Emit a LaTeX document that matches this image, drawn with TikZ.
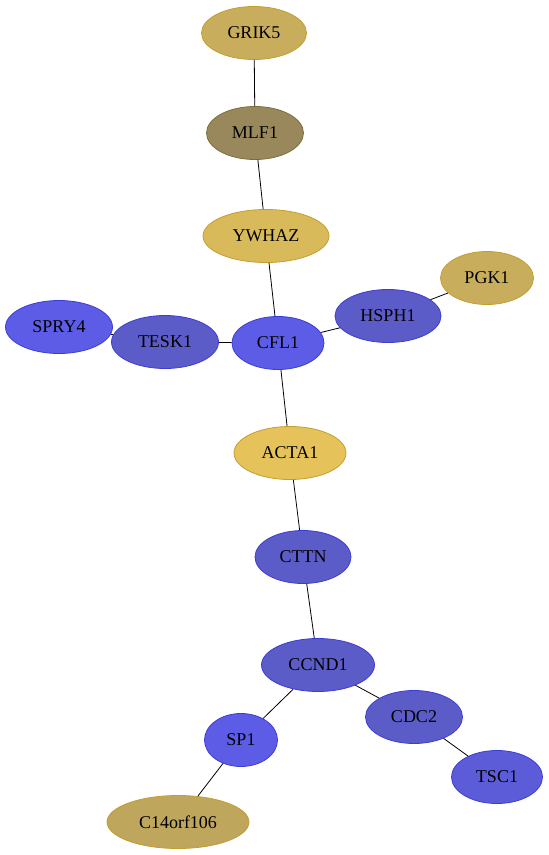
\documentclass[tikz,border=0pt]{standalone}
\usepackage{fontspec}
\setmainfont{Liberation Serif}
\usetikzlibrary{shapes.geometric}
\definecolor{goldA}{RGB}{200,174,92}
\definecolor{goldB}{RGB}{216,186,90}
\definecolor{goldC}{RGB}{230,194,90}
\definecolor{goldD}{RGB}{190,166,92}
\definecolor{oliveM}{RGB}{152,136,92}
\definecolor{blueHi}{RGB}{92,92,230}
\definecolor{blueMd}{RGB}{92,92,200}
\definecolor{blueTs}{RGB}{92,92,216}
\definecolor{goldEdge}{RGB}{196,158,48}
\definecolor{oliveEdge}{RGB}{125,110,60}
\definecolor{blueEdge}{RGB}{60,60,215}
\tikzset{
    gene/.style={ellipse, inner sep=0pt, minimum height=53pt, font=\fontsize{18}{18}\selectfont, line width=0.8pt},
    goldgene/.style={gene, draw=goldEdge},
    bluegene/.style={gene, draw=blueEdge},
    link/.style={black, line width=0.8pt}
}
\begin{document}
\begin{tikzpicture}[x=1pt, y=-1pt]

    % Canvas
    \useasboundingbox (0,0) rectangle (549,855);

    % 1. Upper chain
    \node[goldgene, fill=goldA, minimum width=105pt] (grik) at (254,33) {GRIK5};
    \node[gene, draw=oliveEdge, fill=oliveM, minimum width=97pt] (mlf) at (255,133) {MLF1};
    \node[goldgene, fill=goldB, minimum width=126pt] (ywhaz) at (266,236) {YWHAZ};

    % 2. Middle row
    \node[goldgene, fill=goldA, minimum width=93pt] (pgk) at (487,278) {PGK1};
    \node[bluegene, fill=blueMd, minimum width=106pt] (hsph) at (388,316) {HSPH1};
    \node[bluegene, fill=blueHi, minimum width=107pt] (spry) at (59,327) {SPRY4};
    \node[bluegene, fill=blueMd, minimum width=107pt] (tesk) at (165,342) {TESK1};
    \node[bluegene, fill=blueHi, minimum width=92pt] (cfl) at (278,343) {CFL1};

    % 3. Lower chain
    \node[goldgene, fill=goldC, minimum width=112pt] (acta) at (290,453) {ACTA1};
    \node[bluegene, fill=blueMd, minimum width=96pt] (cttn) at (303,557) {CTTN};
    \node[bluegene, fill=blueMd, minimum width=113pt] (ccnd) at (318,665) {CCND1};
    \node[bluegene, fill=blueMd, minimum width=97pt] (cdc) at (414,717) {CDC2};
    \node[bluegene, fill=blueHi, minimum width=73pt] (sp) at (241,740) {SP1};
    \node[bluegene, fill=blueTs, minimum width=91pt] (tsc) at (497,777) {TSC1};
    \node[gene, draw=goldEdge, fill=goldD, minimum width=142pt] (corf) at (178,822) {C14orf106};

    % 4. Interactions
    \draw[link] (grik) -- (mlf);
    \draw[link] (mlf) -- (ywhaz);
    \draw[link] (ywhaz) -- (cfl);
    \draw[link] (cfl) -- (tesk);
    \draw[link] (tesk) -- (spry);
    \draw[link] (cfl) -- (hsph);
    \draw[link] (hsph) -- (pgk);
    \draw[link] (cfl) -- (acta);
    \draw[link] (acta) -- (cttn);
    \draw[link] (cttn) -- (ccnd);
    \draw[link] (ccnd) -- (sp);
    \draw[link] (ccnd) -- (cdc);
    \draw[link] (cdc) -- (tsc);
    \draw[link] (sp) -- (corf);

\end{tikzpicture}
\end{document}
